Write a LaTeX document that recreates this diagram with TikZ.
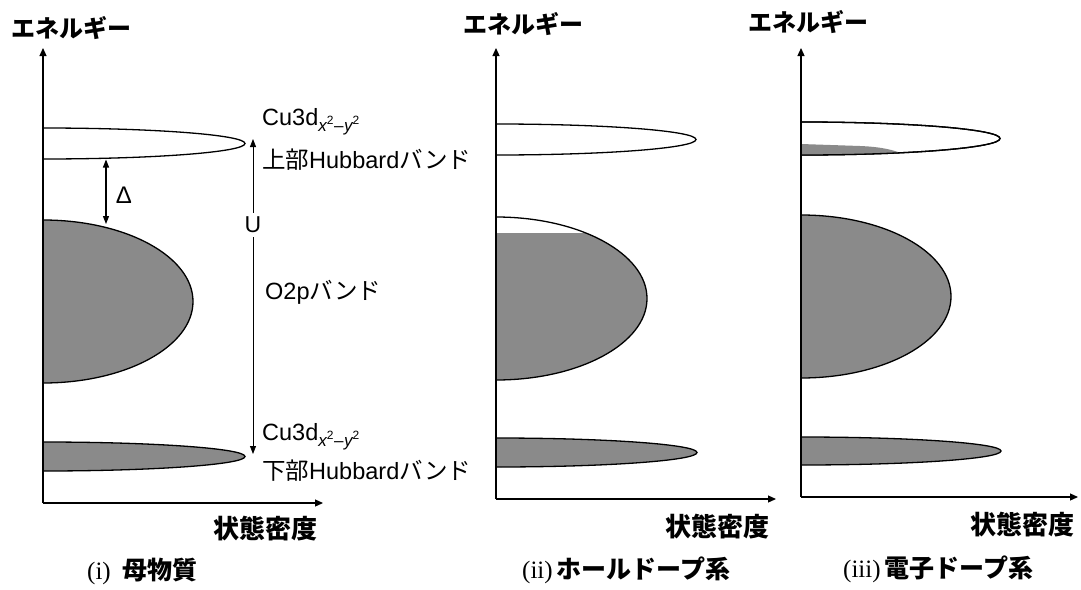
\documentclass[tikz,border=0pt]{standalone}
\usepackage{fontspec}
\setmainfont{Liberation Sans}
\newfontfamily\jp{Noto Sans CJK JP}
\newfontfamily\serifrm{Liberation Serif}
\usetikzlibrary{arrows.meta}
\newcommand\J[1]{{\jp\bfseries #1}}
\newcommand\Jr[1]{{\jp #1}}
\newcommand\cusub{\raisebox{-0.5ex}{\fontsize{17}{17}\selectfont\itshape x\raisebox{0.85ex}{\fontsize{12}{12}\selectfont\upshape 2}\kern0.5pt{\upshape\textendash}\kern0.5pt y\raisebox{0.85ex}{\fontsize{12}{12}\selectfont\upshape 2}}}
\tikzset{
  axisarrow/.style={line width=1.2pt, -{Triangle[length=8pt,width=7pt]}},
  bandline/.style={line width=1.3pt, draw=black},
  dosfill/.style={fill=black!46},
  garrow/.style={line width=0.8pt, -{Triangle[length=8pt,width=6pt]}},
  darrow/.style={line width=1.1pt, {Triangle[length=8pt,width=6pt]}-{Triangle[length=8pt,width=6pt]}},
  lbl/.style={anchor=west, inner sep=0pt, font=\fontsize{23.5}{25}\selectfont},
  ttl/.style={inner sep=0pt, font=\jp\bfseries\fontsize{24}{26}\selectfont},
  dens/.style={inner sep=0pt, font=\jp\bfseries\fontsize{26}{28}\selectfont},
  captxt/.style={anchor=west, inner sep=0pt, font=\fontsize{25}{27}\selectfont},
}
\begin{document}
\begin{tikzpicture}[x=1pt,y=-1pt]
\useasboundingbox (0,0) rectangle (1081,589);

% ================= panel (i) =================
\coordinate (o1) at (43,503);
\coordinate (y1) at (43,48);
\coordinate (x1) at (323,503);
\draw[bandline, fill=white] (43,128) arc[start angle=-90,end angle=90,x radius=202,y radius=15.5] -- cycle;
\draw[bandline, dosfill] (43,220) arc[start angle=-90,end angle=90,x radius=150,y radius=81.5] -- cycle;
\draw[bandline, dosfill] (43,442) arc[start angle=-90,end angle=90,x radius=202,y radius=14.5] -- cycle;
\draw[axisarrow] (o1) -- (y1);
\draw[axisarrow] (o1) -- (x1);

\coordinate (d1) at (106,159.5);
\coordinate (d2) at (106,224);
\draw[darrow] (d1) -- (d2);
\node[inner sep=0pt, font=\fontsize{24}{24}\selectfont] (delta) at (124,195) {Δ};

\node[inner sep=4pt, font=\fontsize{23}{23}\selectfont] (U) at (253,225) {U};
\coordinate (ut) at (253,139);
\coordinate (ub) at (253,454);
\draw[garrow] (U) -- (ut);
\draw[garrow] (U) -- (ub);

\node[lbl] (cu1) at (262,122) {Cu3d\cusub};
\node[lbl] (uhb) at (262,160) {\Jr{上部}Hubbard\Jr{バンド}};
\node[lbl] (o2p) at (265,292) {O2p\Jr{バンド}};
\node[lbl] (cu2) at (262,437) {Cu3d\cusub};
\node[lbl] (lhb) at (262,471) {\Jr{下部}Hubbard\Jr{バンド}};
\node[ttl] (e1) at (71,28) {エネルギー};
\node[dens] (s1) at (265,529) {状態密度};
\node[captxt] (c1) at (87,571) {{\serifrm (i)}\hspace{12pt}\J{母物質}};

% ================= panel (ii) =================
\coordinate (o2) at (496,499);
\coordinate (y2) at (496,48);
\coordinate (x2) at (776,499);
\draw[bandline, fill=white] (496,124) arc[start angle=-90,end angle=90,x radius=200,y radius=15.5] -- cycle;
\begin{scope}
  \clip (400,233) rectangle (700,400);
  \fill[dosfill] (496,217) arc[start angle=-90,end angle=90,x radius=151,y radius=81.5] -- cycle;
\end{scope}
\draw[bandline] (496,217) arc[start angle=-90,end angle=90,x radius=151,y radius=81.5] -- cycle;
\draw[bandline, dosfill] (496,438) arc[start angle=-90,end angle=90,x radius=201,y radius=14.5] -- cycle;
\draw[axisarrow] (o2) -- (y2);
\draw[axisarrow] (o2) -- (x2);
\node[ttl] (e2) at (523,24) {エネルギー};
\node[dens] (s2) at (717,527) {状態密度};
\node[captxt] (c2) at (522,570) {{\serifrm (ii)}\hspace{4pt}\J{ホールドープ系}};

% ================= panel (iii) =================
\coordinate (o3) at (801,497);
\coordinate (y3) at (801,48);
\coordinate (x3) at (1078,497);
\draw[bandline, fill=white] (801,122) arc[start angle=-90,end angle=90,x radius=199,y radius=16.5] -- cycle;
\begin{scope}
  \clip (801,122) arc[start angle=-90,end angle=90,x radius=199,y radius=16.5] -- cycle;
  \fill[dosfill] (801,144) -- (860,146) .. controls (885,147) and (900,151) .. (915,160) -- (801,160) -- cycle;
\end{scope}
\draw[bandline] (801,122) arc[start angle=-90,end angle=90,x radius=199,y radius=16.5] -- cycle;
\draw[bandline, dosfill] (801,215) arc[start angle=-90,end angle=90,x radius=150,y radius=81.5] -- cycle;
\draw[bandline, dosfill] (801,437) arc[start angle=-90,end angle=90,x radius=200,y radius=14] -- cycle;
\draw[axisarrow] (o3) -- (y3);
\draw[axisarrow] (o3) -- (x3);
\node[ttl] (e3) at (808,22) {エネルギー};
\node[dens] (s3) at (1022,525) {状態密度};
\node[captxt] (c3) at (843,569) {{\serifrm (iii)}\hspace{4pt}\J{電子ドープ系}};
\end{tikzpicture}
\end{document}
